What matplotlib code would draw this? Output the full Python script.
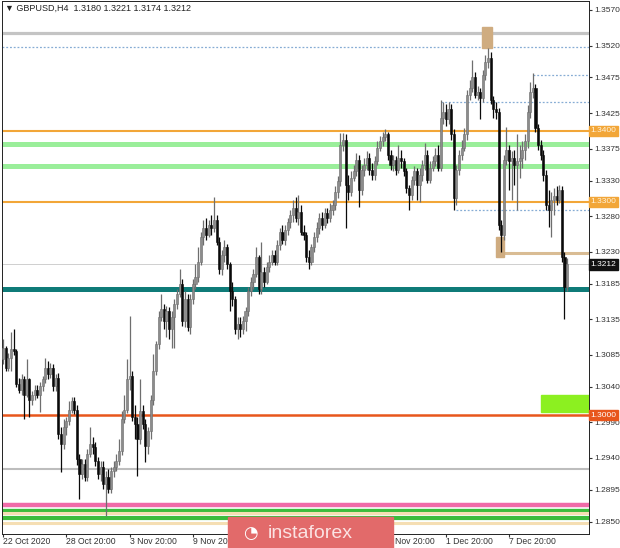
import matplotlib
matplotlib.use("Agg")
import matplotlib.pyplot as plt
from matplotlib.patches import Rectangle

plt.rcParams['font.family'] = ['Liberation Sans', 'DejaVu Sans']

# GBPUSD H4 candles
first_open = 1.3079
closes = [
    1.3095, 1.3067, 1.3081, 1.3093, 1.3090, 1.3044, 1.3036, 1.3051, 1.3029, 1.3051,
    1.3022, 1.3028, 1.3036, 1.3029, 1.3041, 1.3051, 1.3067, 1.3058, 1.3067, 1.3041,
    1.3053, 1.2973, 1.2959, 1.2983, 1.2992, 1.3008, 1.3020, 1.3008, 1.2938, 1.2917,
    1.2931, 1.2913, 1.2945, 1.2959, 1.2955, 1.2935, 1.2917, 1.2927, 1.2903, 1.2913,
    1.2896, 1.2921, 1.2927, 1.2935, 1.2949, 1.2994, 1.3008, 1.3051, 1.3055, 1.2997,
    1.2987, 1.2966, 1.3006, 1.2987, 1.2956, 1.2978, 1.3022, 1.3062, 1.3100, 1.3138,
    1.3149, 1.3132, 1.3146, 1.3121, 1.3138, 1.3156, 1.3170, 1.3184, 1.3132, 1.3163,
    1.3124, 1.3163, 1.3184, 1.3194, 1.3216, 1.3250, 1.3264, 1.3254, 1.3268, 1.3264,
    1.3275, 1.3244, 1.3205, 1.3226, 1.3236, 1.3212, 1.3174, 1.3163, 1.3121, 1.3128,
    1.3121, 1.3132, 1.3146, 1.3174, 1.3188, 1.3198, 1.3222, 1.3177, 1.3202, 1.3188,
    1.3208, 1.3216, 1.3226, 1.3216, 1.3240, 1.3258, 1.3247, 1.3261, 1.3272, 1.3282,
    1.3292, 1.3278, 1.3286, 1.3258, 1.3253, 1.3222, 1.3216, 1.3236, 1.3250, 1.3264,
    1.3278, 1.3268, 1.3285, 1.3278, 1.3289, 1.3296, 1.3314, 1.3329, 1.3380, 1.3387,
    1.3324, 1.3314, 1.3334, 1.3343, 1.3359, 1.3317, 1.3345, 1.3352, 1.3362, 1.3345,
    1.3338, 1.3357, 1.3376, 1.3385, 1.3392, 1.3395, 1.3366, 1.3352, 1.3359, 1.3345,
    1.3362, 1.3357, 1.3343, 1.3320, 1.3310, 1.3331, 1.3343, 1.3324, 1.3338, 1.3352,
    1.3366, 1.3331, 1.3348, 1.3357, 1.3366, 1.3348, 1.3418, 1.3427, 1.3416, 1.3430,
    1.3395, 1.3306, 1.3345, 1.3366, 1.3376, 1.3395, 1.3451, 1.3460, 1.3475, 1.3451,
    1.3455, 1.3446, 1.3479, 1.3497, 1.3503, 1.3444, 1.3430, 1.3427, 1.3268, 1.3254,
    1.3359, 1.3373, 1.3357, 1.3362, 1.3352, 1.3357, 1.3362, 1.3373, 1.3385, 1.3427,
    1.3455, 1.3460, 1.3404, 1.3380, 1.3366, 1.3338, 1.3296, 1.3289, 1.3303, 1.3309,
    1.3303, 1.3317, 1.3222, 1.3180, 1.3212,
]
highs = [
    1.3107, 1.3098, 1.3087, 1.3117, 1.3121, 1.3093, 1.3053, 1.3058, 1.3055, 1.3079,
    1.3053, 1.3034, 1.3042, 1.3042, 1.3046, 1.3055, 1.3081, 1.3076, 1.3073, 1.3072,
    1.3058, 1.3060, 1.2983, 1.2994, 1.2997, 1.3020, 1.3025, 1.3025, 1.3015, 1.2945,
    1.2938, 1.2938, 1.2952, 1.2984, 1.2969, 1.2963, 1.2941, 1.2935, 1.2935, 1.2921,
    1.2924, 1.2927, 1.2935, 1.2945, 1.2966, 1.3006, 1.3029, 1.3079, 1.3139, 1.3062,
    1.3015, 1.2997, 1.3051, 1.3015, 1.2994, 1.2983, 1.3029, 1.3086, 1.3104, 1.3146,
    1.3170, 1.3156, 1.3154, 1.3152, 1.3146, 1.3163, 1.3177, 1.3205, 1.3191, 1.3174,
    1.3170, 1.3170, 1.3191, 1.3212, 1.3236, 1.3258, 1.3275, 1.3278, 1.3275, 1.3282,
    1.3307, 1.3281, 1.3250, 1.3233, 1.3247, 1.3241, 1.3216, 1.3187, 1.3168, 1.3138,
    1.3138, 1.3140, 1.3152, 1.3180, 1.3194, 1.3205, 1.3237, 1.3226, 1.3243, 1.3208,
    1.3216, 1.3225, 1.3233, 1.3233, 1.3247, 1.3264, 1.3267, 1.3267, 1.3278, 1.3289,
    1.3303, 1.3307, 1.3310, 1.3296, 1.3268, 1.3258, 1.3233, 1.3241, 1.3258, 1.3272,
    1.3284, 1.3286, 1.3292, 1.3292, 1.3298, 1.3303, 1.3323, 1.3337, 1.3397, 1.3397,
    1.3395, 1.3338, 1.3343, 1.3352, 1.3369, 1.3366, 1.3352, 1.3362, 1.3371, 1.3369,
    1.3355, 1.3365, 1.3385, 1.3393, 1.3399, 1.3402, 1.3399, 1.3373, 1.3366, 1.3365,
    1.3380, 1.3373, 1.3362, 1.3348, 1.3324, 1.3337, 1.3351, 1.3348, 1.3348, 1.3359,
    1.3383, 1.3373, 1.3357, 1.3365, 1.3376, 1.3380, 1.3444, 1.3441, 1.3438, 1.3441,
    1.3438, 1.3402, 1.3352, 1.3373, 1.3387, 1.3404, 1.3458, 1.3472, 1.3500, 1.3483,
    1.3463, 1.3460, 1.3486, 1.3507, 1.3517, 1.3511, 1.3449, 1.3441, 1.3432, 1.3275,
    1.3366, 1.3406, 1.3380, 1.3371, 1.3373, 1.3395, 1.3380, 1.3385, 1.3395, 1.3437,
    1.3469, 1.3482, 1.3466, 1.3409, 1.3387, 1.3373, 1.3345, 1.3317, 1.3314, 1.3320,
    1.3323, 1.3324, 1.3323, 1.3230, 1.3221,
]
lows = [
    1.3072, 1.3062, 1.3062, 1.3062, 1.3084, 1.3039, 1.3031, 1.3029, 1.2994, 1.3025,
    1.2997, 1.3015, 1.3022, 1.3024, 1.3004, 1.3034, 1.3045, 1.3051, 1.3053, 1.3034,
    1.3034, 1.2966, 1.2920, 1.2952, 1.2972, 1.2986, 1.3003, 1.3001, 1.2930, 1.2882,
    1.2910, 1.2907, 1.2907, 1.2941, 1.2945, 1.2928, 1.2910, 1.2907, 1.2896, 1.2858,
    1.2890, 1.2890, 1.2913, 1.2921, 1.2930, 1.2944, 1.2989, 1.3003, 1.3036, 1.2992,
    1.2966, 1.2914, 1.2959, 1.2980, 1.2934, 1.2945, 1.2966, 1.3015, 1.3056, 1.3093,
    1.3132, 1.3121, 1.3110, 1.3107, 1.3095, 1.3095, 1.3149, 1.3166, 1.3126, 1.3124,
    1.3118, 1.3114, 1.3156, 1.3177, 1.3188, 1.3211, 1.3240, 1.3247, 1.3250, 1.3254,
    1.3258, 1.3239, 1.3199, 1.3197, 1.3216, 1.3205, 1.3146, 1.3154, 1.3114, 1.3107,
    1.3110, 1.3114, 1.3118, 1.3140, 1.3168, 1.3177, 1.3194, 1.3171, 1.3170, 1.3180,
    1.3184, 1.3202, 1.3211, 1.3211, 1.3211, 1.3233, 1.3241, 1.3239, 1.3253, 1.3264,
    1.3272, 1.3272, 1.3268, 1.3253, 1.3247, 1.3216, 1.3205, 1.3211, 1.3230, 1.3244,
    1.3255, 1.3261, 1.3264, 1.3270, 1.3272, 1.3281, 1.3289, 1.3306, 1.3323, 1.3371,
    1.3264, 1.3303, 1.3309, 1.3329, 1.3337, 1.3293, 1.3310, 1.3337, 1.3345, 1.3338,
    1.3331, 1.3331, 1.3352, 1.3371, 1.3379, 1.3385, 1.3359, 1.3345, 1.3343, 1.3338,
    1.3340, 1.3348, 1.3337, 1.3313, 1.3289, 1.3303, 1.3324, 1.3303, 1.3300, 1.3329,
    1.3345, 1.3326, 1.3326, 1.3343, 1.3351, 1.3343, 1.3343, 1.3409, 1.3407, 1.3410,
    1.3387, 1.3289, 1.3296, 1.3338, 1.3359, 1.3371, 1.3387, 1.3444, 1.3455, 1.3446,
    1.3444, 1.3416, 1.3441, 1.3472, 1.3489, 1.3438, 1.3418, 1.3416, 1.3261, 1.3229,
    1.3247, 1.3352, 1.3317, 1.3303, 1.3324, 1.3289, 1.3334, 1.3348, 1.3359, 1.3376,
    1.3418, 1.3446, 1.3399, 1.3373, 1.3359, 1.3329, 1.3289, 1.3265, 1.3251, 1.3282,
    1.3295, 1.3298, 1.3216, 1.3135, 1.3174,
]

y_ticks = [1.3570, 1.3520, 1.3475, 1.3425, 1.3375, 1.3330, 1.3280, 1.3230,
           1.3185, 1.3135, 1.3085, 1.3040, 1.2990, 1.2940, 1.2895, 1.2850]
date_labels = ["22 Oct 2020", "28 Oct 20:00", "3 Nov 20:00", "9 Nov 20:00",
               "13 Nov 20:00", "19 Nov 20:00", "25 Nov 20:00", "1 Dec 20:00",
               "7 Dec 20:00"]
bars_per_label = 24

# levels drawn on the chart
top_gray = 1.3538
dotted_full = 1.3518
dotted_part = [(1.3479, 201), (1.3441, 166), (1.3288, 172)]
orange_levels = [1.3400, 1.3300]
green_levels = [1.3381, 1.3350]
bid = closes[-1]
teal_level = 1.3178
red_level = 1.3000
gray_low = 1.2924
bottom_bands = [(1.2874, "#f06aa8", 3.2), (1.2867, "#3cbc3c", 2.4),
                (1.2862, "#f5deb3", 2.2), (1.2855, "#3cbc3c", 3.0),
                (1.2849, "#f5deb3", 2.2)]

n = len(closes)
opens = [first_open] + closes[:-1]
x = list(range(n))

fig = plt.figure(figsize=(6.2, 5.48), dpi=100)
ax = fig.add_axes([2 / 620, 14 / 548, 587 / 620, 533 / 548])
ax.set_xlim(-0.4, 222.3)
ax.set_ylim(1.28329, 1.35826)

# horizontal levels
ax.axhline(top_gray, color="#c4c4c4", lw=2.3, zorder=1)
ax.axhline(dotted_full, color="#86acd4", lw=0.9, ls=(0, (1.5, 1.5)), zorder=1)
for lev, start in dotted_part:
    ax.hlines(lev, start, 222.3, color="#86acd4", lw=0.9, ls=(0, (1.5, 1.5)), zorder=1)
for lev in green_levels:
    ax.axhline(lev, color="#9aee9a", lw=3.6, zorder=1)
for lev in orange_levels:
    ax.axhline(lev, color="#f2a638", lw=1.5, zorder=1)
ax.axhline(bid, color="#c8c8c8", lw=0.6, zorder=1)
ax.axhline(teal_level, color="#0f7b78", lw=3.6, zorder=1)
ax.axhline(red_level, color="#e8561c", lw=1.8, zorder=2)
ax.axhline(gray_low, color="#bdbdbd", lw=1.5, zorder=1)
for lev, col, w in bottom_bands:
    ax.axhline(lev, color=col, lw=w, zorder=1)

# rectangles and the tan support line
ax.add_patch(Rectangle((181.7, 1.3517), 3.8, 0.0029, color="#cfac80", zorder=2))
ax.add_patch(Rectangle((187.0, 1.3223), 3.1, 0.0028, color="#cfac80", zorder=2))
ax.hlines(1.3228, 190.1, 222.3, color="#d9bc94", lw=2.2, zorder=1)
ax.add_patch(Rectangle((203.9, 1.3004), 20, 0.0025, color="#8cf020", zorder=1))

# candles
for i in x:
    o, c = opens[i], closes[i]
    h = max(highs[i], o, c)
    l = min(lows[i], o, c)
    bull = c >= o
    col = "#6e6e6e" if bull else "#0a0a0a"
    ax.vlines(i, l, h, color=col, lw=0.9, zorder=3)
    ax.bar(i, max(abs(c - o), 0.00004), bottom=min(o, c), width=0.8,
           color="#8c8c8c" if bull else col, edgecolor=col, linewidth=0.4, zorder=4)

# axes styling
for s in ax.spines.values():
    s.set_color("#222222")
    s.set_linewidth(0.7)
ax.yaxis.tick_right()
ax.set_yticks(y_ticks)
ax.set_yticklabels(["%.4f" % v for v in y_ticks])
ax.tick_params(axis="y", labelsize=6.0, length=2.5, pad=1.2, colors="#333333")
ax.set_xticks([k * bars_per_label for k in range(len(date_labels))])
ax.set_xticklabels(date_labels)
for lab in ax.get_xticklabels():
    lab.set_horizontalalignment("left")
ax.tick_params(axis="x", labelsize=6.2, length=2, pad=0.5, colors="#333333")

# price markers on the scale
ytr = ax.get_yaxis_transform()
markers = [(1.3400, "#f2a638", "#fff3dc"), (1.3300, "#f2a638", "#fff3dc"),
           (bid, "#111111", "white"), (red_level, "#e8561c", "white")]
for val, bg, fg in markers:
    ax.text(1.002, val, "%.4f" % val, transform=ytr, fontsize=6.0, color=fg,
            va="center", ha="left", zorder=10, clip_on=False,
            bbox=dict(boxstyle="square,pad=0.2", fc=bg, ec=bg))

# header
fig.text(5 / 620, 1 - 8 / 548,
         "\u25bc GBPUSD,H4  %.4f %.4f %.4f %.4f" % (opens[-1], highs[-1], lows[-1], closes[-1]),
         fontsize=6.5, va="center", ha="left", color="#222222")

# instaforex logo overlay
fig.patches.append(Rectangle((228 / 620, 0), 165 / 620, 31 / 548, transform=fig.transFigure,
                             color="#e26a6a", zorder=20))
fig.text(250 / 620, 15 / 548, "\u25d4", fontsize=12, color="white", va="center",
         ha="center", zorder=21, family="DejaVu Sans")
fig.text(268 / 620, 15 / 548, "instaforex", fontsize=14, color="#fbe3e3",
         va="center", ha="left", zorder=21)

fig.savefig("out.png", dpi=100)
